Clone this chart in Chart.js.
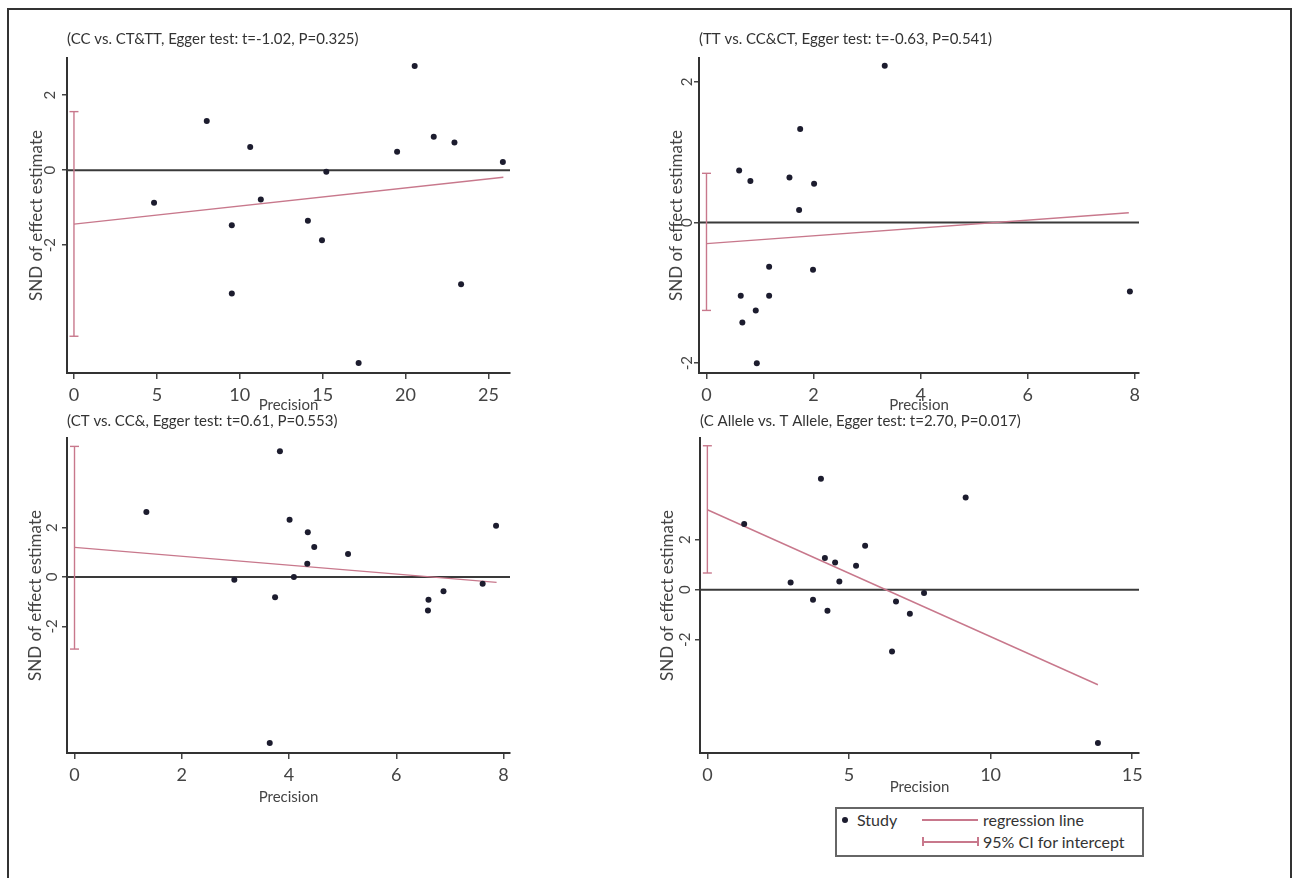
<!DOCTYPE html>
<html>
<head>
<meta charset="utf-8">
<script src="https://cdn.jsdelivr.net/npm/chart.js@4.4.1/dist/chart.umd.min.js"></script>
<style>
  html, body { margin: 0; padding: 0; background: #fff; width: 1295px; height: 878px; overflow: hidden; }
  canvas { position: absolute; left: 0; top: 0; }
  #frame { position: absolute; left: 7px; top: 8px; width: 1281px; height: 900px; border: 2px solid #333; border-bottom: none; }
  #legend { position: absolute; left: 835px; top: 807px; width: 309px; height: 50px; box-sizing: border-box;
            border: 2px solid #666; background: #fff; font-family: Lato, "Open Sans", sans-serif; font-size: 16px; color: #333; }
  #legend .txt { position: absolute; line-height: 20px; white-space: nowrap; }
  #legend .dot { position: absolute; width: 6px; height: 6px; border-radius: 50%; background: #1c1c2e; }
  #legend .ln { position: absolute; height: 1.5px; background: #c8788c; }
  #legend .cap { position: absolute; width: 1.5px; height: 9px; background: #c8788c; }
</style>
</head>
<body>
<div id="frame"></div>
<canvas id="cc" width="1295" height="878"></canvas>
<canvas id="tt" width="1295" height="878"></canvas>
<canvas id="ct" width="1295" height="878"></canvas>
<canvas id="allele" width="1295" height="878"></canvas>
<div id="legend">
  <div class="dot" style="left:5px; top:8px;"></div>
  <div class="txt" style="left:20px; top:1px;">Study</div>
  <div class="ln" style="left:85px; top:10px; width:56px;"></div>
  <div class="txt" style="left:146px; top:1px;">regression line</div>
  <div class="ln" style="left:85px; top:32px; width:56px;"></div>
  <div class="cap" style="left:85px; top:28px;"></div>
  <div class="cap" style="left:140px; top:28px;"></div>
  <div class="txt" style="left:146px; top:23px;">95% CI for intercept</div>
</div>
<script>
const FONT = 'Lato, "Open Sans", sans-serif';

// CC vs. CT&TT
const ccPrecision = [4.83, 8.01, 10.63, 9.52, 9.52, 11.27, 14.11, 14.96, 15.22, 17.17, 19.49, 20.55, 21.70, 22.95, 23.35, 25.87];
const ccSnd       = [-0.87, 1.31, 0.62, -1.47, -3.29, -0.78, -1.35, -1.87, -0.04, -5.14, 0.49, 2.78, 0.89, 0.74, -3.04, 0.22];
const ccRegX = [0, 25.9];
const ccRegY = [-1.44, -0.19];
const ccCI = [-4.43, 1.56];
const ccXRange = [-0.42, 26.3];
const ccYRange = [-5.41, 2.99];
const ccXTicks = [0, 5, 10, 15, 20, 25];
const ccYTicks = [-2, 0, 2];

// TT vs. CC&CT
const ttPrecision = [3.33, 1.75, 0.61, 0.82, 1.55, 2.01, 1.73, 1.17, 1.99, 0.64, 1.17, 0.92, 0.67, 0.94, 7.91];
const ttSnd       = [2.23, 1.33, 0.74, 0.59, 0.64, 0.55, 0.18, -0.63, -0.67, -1.04, -1.04, -1.25, -1.42, -2.0, -0.98];
const ttRegX = [0, 7.89];
const ttRegY = [-0.30, 0.14];
const ttCI = [-1.25, 0.70];
const ttXRange = [-0.14, 8.08];
const ttYRange = [-2.14, 2.34];
const ttXTicks = [0, 2, 4, 6, 8];
const ttYTicks = [-2, 0, 2];

// CT vs. CC&
const ctPrecision = [3.83, 1.34, 4.01, 4.35, 4.47, 5.10, 4.34, 4.09, 2.98, 3.74, 6.60, 6.59, 6.88, 7.61, 7.86, 3.64];
const ctSnd       = [5.09, 2.63, 2.32, 1.81, 1.21, 0.93, 0.54, 0.0, -0.11, -0.82, -0.92, -1.36, -0.58, -0.27, 2.08, -6.72];
const ctRegX = [0, 7.87];
const ctRegY = [1.20, -0.22];
const ctCI = [-2.92, 5.29];
const ctXRange = [-0.14, 8.12];
const ctYRange = [-7.13, 5.63];
const ctXTicks = [0, 2, 4, 6, 8];
const ctYTicks = [-2, 0, 2];

// C Allele vs. T Allele
const allelePrecision = [4.01, 9.12, 1.30, 5.57, 4.15, 4.51, 5.25, 4.66, 2.94, 3.73, 4.24, 6.66, 7.65, 7.15, 6.52, 13.79];
const alleleSnd       = [4.44, 3.69, 2.63, 1.76, 1.27, 1.09, 0.96, 0.33, 0.29, -0.40, -0.84, -0.47, -0.13, -0.96, -2.47, -6.13];
const alleleRegX = [0, 13.79];
const alleleRegY = [3.20, -3.80];
const alleleCI = [0.67, 5.76];
const alleleXRange = [-0.26, 15.24];
const alleleYRange = [-6.53, 6.07];
const alleleXTicks = [0, 5, 10, 15];
const alleleYTicks = [-2, 0, 2];

// y tick labels are drawn turned on their side, like the original
const rotatedYLabels = {
  id: 'rotatedYLabels',
  afterDraw(chart, args, opts) {
    const ys = chart.scales.y, ctx = chart.ctx;
    ctx.save();
    ctx.font = opts.size + 'px ' + FONT;
    ctx.fillStyle = '#444';
    ctx.textAlign = 'center';
    ctx.textBaseline = 'middle';
    ys.ticks.forEach(t => {
      ctx.save();
      ctx.translate(chart.chartArea.left - opts.offset, ys.getPixelForValue(t.value));
      ctx.rotate(-Math.PI / 2);
      ctx.fillText(String(t.value), 0, 0);
      ctx.restore();
    });
    ctx.restore();
  }
};

function makePanel(id, d, box) {
  const Y_W = 50, X_H = 55;
  const xy = d.x.map((v, i) => ({x: v, y: d.y[i]}));
  new Chart(document.getElementById(id), {
    type: 'scatter',
    plugins: [rotatedYLabels],
    data: {
      datasets: [
        { data: xy, pointRadius: 3, pointBackgroundColor: '#1c1c2e', pointBorderWidth: 0 },
        { data: d.regX.map((v, i) => ({x: v, y: d.regY[i]})), showLine: true, pointRadius: 0,
          borderColor: '#c8788c', borderWidth: 1.4 },
        { data: [{x: 0, y: d.ci[0]}, {x: 0, y: d.ci[1]}], showLine: true, borderColor: '#c8788c', borderWidth: 1.4,
          pointStyle: 'line', pointRadius: 4.5, pointBorderColor: '#c8788c', pointBorderWidth: 1.4 },
        { data: [{x: d.xRange[0], y: 0}, {x: d.xRange[1], y: 0}], showLine: true, pointRadius: 0,
          borderColor: '#3a3a3a', borderWidth: 2 }
      ]
    },
    options: {
      responsive: false,
      animation: false,
      events: [],
      layout: { padding: { left: box.L - Y_W, right: 1295 - box.R, top: 0, bottom: 878 - box.B - X_H } },
      plugins: {
        legend: { display: false },
        tooltip: { enabled: false },
        title: {
          display: true, text: d.title, align: 'start', fullSize: false, color: '#333',
          font: { family: FONT, size: 15, weight: 'normal', lineHeight: '18px' },
          padding: { top: box.titleC - 9, bottom: box.T - box.titleC - 9 }
        },
        rotatedYLabels: { offset: box.yTickOff, size: 15 }
      },
      scales: {
        x: {
          type: 'linear', position: 'bottom', min: d.xRange[0], max: d.xRange[1],
          afterBuildTicks: s => { s.ticks = d.xTicks.map(v => ({value: v})); },
          afterFit: s => { s.height = X_H; s.paddingLeft = 0; s.paddingRight = 0; },
          grid: { drawOnChartArea: false, drawTicks: true, tickLength: 6, color: '#444', lineWidth: 1.5 },
          border: { display: true, color: '#333', width: 2 },
          ticks: { color: '#444', padding: 5, maxRotation: 0, font: { family: FONT, size: 18 } },
          title: { display: true, text: 'Precision', color: '#444',
                   font: { family: FONT, size: 15, lineHeight: '18px' },
                   padding: { top: 0, bottom: X_H - 9 - box.xTitleOff } }
        },
        y: {
          type: 'linear', position: 'left', min: d.yRange[0], max: d.yRange[1],
          afterBuildTicks: s => { s.ticks = d.yTicks.map(v => ({value: v})); },
          afterFit: s => { s.width = Y_W; },
          grid: { drawOnChartArea: false, drawTicks: true, tickLength: 5, color: '#444', lineWidth: 1.5 },
          border: { display: true, color: '#333', width: 2 },
          ticks: { display: false },
          title: { display: true, text: 'SND of effect estimate', color: '#444',
                   font: { family: FONT, size: 17, lineHeight: '18px' },
                   padding: { top: Y_W - box.yTitleOff - 9, bottom: 0 } }
        }
      }
    }
  });
}

makePanel('cc', {
  title: '(CC vs. CT&TT, Egger test: t=-1.02, P=0.325)',
  x: ccPrecision, y: ccSnd, regX: ccRegX, regY: ccRegY, ci: ccCI,
  xRange: ccXRange, yRange: ccYRange, xTicks: ccXTicks, yTicks: ccYTicks
}, { L: 67, R: 510, T: 58, B: 373, titleC: 39, xTitleOff: 32, yTitleOff: 30, yTickOff: 17 });

makePanel('tt', {
  title: '(TT vs. CC&CT, Egger test: t=-0.63, P=0.541)',
  x: ttPrecision, y: ttSnd, regX: ttRegX, regY: ttRegY, ci: ttCI,
  xRange: ttXRange, yRange: ttYRange, xTicks: ttXTicks, yTicks: ttYTicks
}, { L: 699, R: 1139, T: 58, B: 373, titleC: 39, xTitleOff: 32, yTitleOff: 22, yTickOff: 12 });

makePanel('ct', {
  title: '(CT vs. CC&, Egger test: t=0.61, P=0.553)',
  x: ctPrecision, y: ctSnd, regX: ctRegX, regY: ctRegY, ci: ctCI,
  xRange: ctXRange, yRange: ctYRange, xTicks: ctXTicks, yTicks: ctYTicks
}, { L: 67, R: 510, T: 438, B: 753, titleC: 421, xTitleOff: 44, yTitleOff: 31, yTickOff: 15 });

makePanel('allele', {
  title: '(C Allele vs. T Allele, Egger test: t=2.70, P=0.017)',
  x: allelePrecision, y: alleleSnd, regX: alleleRegX, regY: alleleRegY, ci: alleleCI,
  xRange: alleleXRange, yRange: alleleYRange, xTicks: alleleXTicks, yTicks: alleleYTicks
}, { L: 700, R: 1139, T: 438, B: 753, titleC: 421, xTitleOff: 34, yTitleOff: 32, yTickOff: 15 });
</script>
</body>
</html>
